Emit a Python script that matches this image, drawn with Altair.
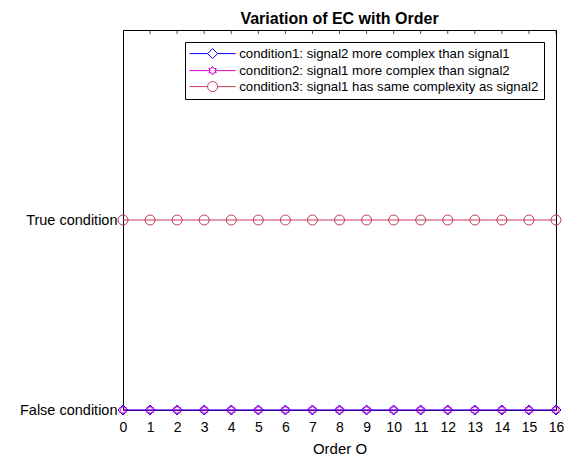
import math
import altair as alt
import pandas as pd

# ---- data ----
orders = [0, 1, 2, 3, 4, 5, 6, 7, 8, 9, 10, 11, 12, 13, 14, 15, 16]
condition_names = [
    "condition1: signal2 more complex than signal1",
    "condition2: signal1 more complex than signal2",
    "condition3: signal1 has same complexity as signal2",
]
cond1_values = [0, 0, 0, 0, 0, 0, 0, 0, 0, 0, 0, 0, 0, 0, 0, 0, 0]
cond2_values = [0, 0, 0, 0, 0, 0, 0, 0, 0, 0, 0, 0, 0, 0, 0, 0, 0]
cond3_values = [1, 1, 1, 1, 1, 1, 1, 1, 1, 1, 1, 1, 1, 1, 1, 1, 1]
y_tick_values = [0, 1]
y_tick_labels = ["False condition", "True condition"]
colors = ["#0000FF", "#CC00CC", "#C23B5B"]

FONT = "Liberation Sans"

rows = []
for name, vals in zip(condition_names, [cond1_values, cond2_values, cond3_values]):
    for o, v in zip(orders, vals):
        rows.append({"order": o, "value": v, "condition": name})
df = pd.DataFrame(rows)

# ---- marker shapes (style) ----
def hexagram(R):
    pts = []
    for k in range(12):
        ang = math.radians(90 + 30 * k)
        r = R if k % 2 == 0 else R / math.sqrt(3)
        pts.append((r * math.cos(ang), r * math.sin(ang)))
    return "M" + "L".join(f"{x:.3f},{y:.3f}" for x, y in pts) + "Z"

diamond = "M0,-1L1,0L0,1L-1,0Z"
hexa = hexagram(0.85)
circle = "M1,0A1,1,0,1,1,-1,0A1,1,0,1,1,1,0Z"
chart_paths = [diamond, hexa, circle]

def stub(r):
    return f"M-4.6,0L-{r},0M{r},0L4.6,0"

legend_paths = [stub(1) + diamond, stub(0.5) + hexa, stub(1) + circle]

legend = alt.Legend(
    title=None,
    orient="none",
    legendX=62,
    legendY=12,
    strokeColor="black",
    fillColor="white",
    padding=5,
    rowPadding=2,
    symbolSize=100,
    symbolStrokeWidth=1,
    symbolOpacity=1,
    symbolOffset=16,
    labelOffset=20,
    labelFontSize=13.2,
    labelFont=FONT,
    labelColor="black",
    labelLimit=500,
    cornerRadius=0,
)

label_expr = f"datum.value == {y_tick_values[0]} ? '{y_tick_labels[0]}' : '{y_tick_labels[1]}'"

x_enc = alt.X(
    "order:Q",
    scale=alt.Scale(domain=[orders[0], orders[-1]], nice=False, zero=False),
    axis=alt.Axis(
        values=orders, title="Order O", tickSize=0, labelPadding=10,
        labelFontSize=14, titleFontSize=15, titleFontWeight="normal",
        labelFont=FONT, titleFont=FONT, domain=False, grid=False,
        labelColor="black", titleColor="black", labelOverlap=False,
        labelFlush=False, titleBaseline="alphabetic", titleY=43,
    ),
)
y_enc = alt.Y(
    "value:Q",
    scale=alt.Scale(domain=[0, 2], nice=False),
    axis=alt.Axis(
        values=y_tick_values, labelExpr=label_expr, title=None, tickSize=0,
        labelPadding=6, labelFontSize=14.5, labelFont=FONT, labelColor="black",
        domain=False, grid=False, labelOverlap=False, labelFlush=False,
    ),
)
color_scale = alt.Scale(domain=condition_names, range=colors)
color_leg = alt.Color("condition:N", scale=color_scale, legend=legend)
shape_leg = alt.Shape(
    "condition:N", scale=alt.Scale(domain=condition_names, range=legend_paths), legend=legend
)

base = alt.Chart(df)

legend_carrier = base.mark_point(filled=False, size=100, strokeWidth=1, opacity=0).encode(
    x=x_enc, y=y_enc, color=color_leg, shape=shape_leg
)

lines = base.mark_line(strokeWidth=1).encode(
    x=x_enc,
    y=y_enc,
    color=color_leg,
    detail="condition:N",
    opacity=alt.condition(
        alt.datum.condition == condition_names[1], alt.value(0.6), alt.value(1)
    ),
)

marker_layers = [
    base.transform_filter(alt.datum.condition == name)
    .mark_point(shape=path, filled=False, size=100, strokeWidth=1, opacity=1)
    .encode(x=x_enc, y=y_enc, color=color_leg)
    for name, path in zip(condition_names, chart_paths)
]

ticks = alt.Chart(pd.DataFrame({"order": orders})).mark_tick(
    orient="vertical", size=8, thickness=1, color="black", clip=True
).encode(x=x_enc, y=alt.datum(2))

chart = alt.layer(legend_carrier, ticks, lines, *marker_layers).properties(
    width=433,
    height=380,
    autosize=alt.AutoSizeParams(type="none"),
    padding={"left": 115, "top": 22, "right": 10, "bottom": 45},
    title=alt.TitleParams(
        "Variation of EC with Order", fontSize=16, fontWeight="bold",
        font=FONT, color="black", anchor="middle", offset=3,
    ),
).configure(
    font=FONT, view=alt.ViewConfig(stroke="black", strokeWidth=1)
)

chart.save("out.html", embed_options={"renderer": "svg", "actions": False})
